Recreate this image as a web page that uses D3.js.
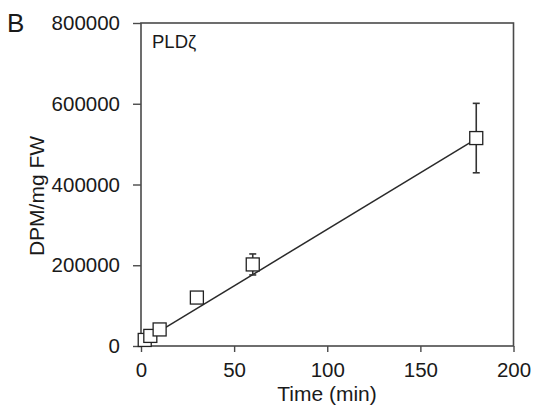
<!DOCTYPE html>
<html>
<head>
<meta charset="utf-8">
<script src="https://cdn.jsdelivr.net/npm/d3@7"></script>
<style>
  body { margin: 0; background: #fff; }
  svg { display: block; font-family: "Liberation Sans", Arial, sans-serif; }
</style>
</head>
<body>
<div id="chart"></div>
<script>
// values
const timeMin = [2, 5, 10, 30, 60, 180];
const dpm = [15000, 25000, 41000, 120000, 202000, 515000];
const dpmErr = [0, 0, 0, 0, 26000, 86000];
const xTicks = [0, 50, 100, 150, 200];
const yTicks = [0, 200000, 400000, 600000, 800000];
// fitted line
const fitSlope = 2800;
const fitIntercept = 9000;

const W = 534, H = 413;
const margin = { top: 23, right: 20, bottom: 66, left: 141 };

const svg = d3.select("#chart").append("svg")
    .attr("width", W)
    .attr("height", H);

const x = d3.scaleLinear().domain([0, 200]).range([margin.left, W - margin.right - 0.5]);
const y = d3.scaleLinear().domain([0, 800000]).range([H - margin.bottom - 1, margin.top]);

const axisColor = "#4a4a4a";

// frame
svg.append("rect")
    .attr("x", x(0)).attr("y", y(800000))
    .attr("width", x(200) - x(0)).attr("height", y(0) - y(800000))
    .attr("fill", "none").attr("stroke", axisColor).attr("stroke-width", 1.6);

// axes
const xAxis = svg.append("g")
    .attr("transform", `translate(0,${y(0)})`)
    .call(d3.axisBottom(x).tickValues(xTicks).tickSize(6).tickPadding(10).tickFormat(d3.format("d")));
const yAxis = svg.append("g")
    .attr("transform", `translate(${x(0)},0)`)
    .call(d3.axisLeft(y).tickValues(yTicks).tickSize(8).tickPadding(13).tickFormat(d3.format("d")));

[xAxis, yAxis].forEach(g => {
    g.select(".domain").remove();
    g.selectAll("line").attr("stroke", axisColor).attr("stroke-width", 1.4);
    g.selectAll("text").attr("font-size", 20.5).attr("fill", "#1a1a1a")
        .attr("font-family", "'Liberation Sans', Arial, sans-serif");
});

// fit line
const fitX = [d3.min(timeMin), d3.max(timeMin)];
svg.append("line")
    .attr("x1", x(fitX[0])).attr("y1", y(fitIntercept + fitSlope * fitX[0]))
    .attr("x2", x(fitX[1])).attr("y2", y(fitIntercept + fitSlope * fitX[1]))
    .attr("stroke", "#2a2a2a").attr("stroke-width", 1.5);

const pts = timeMin.map((t, i) => ({ t, v: dpm[i], e: dpmErr[i] }));

// error bars
const eb = svg.append("g").attr("stroke", "#333").attr("stroke-width", 1.6);
pts.filter(d => d.e > 0).forEach(d => {
    eb.append("line").attr("x1", x(d.t)).attr("x2", x(d.t))
        .attr("y1", y(d.v + d.e)).attr("y2", y(d.v - d.e));
    [d.v + d.e, d.v - d.e].forEach(v => {
        eb.append("line").attr("x1", x(d.t) - 3.5).attr("x2", x(d.t) + 3.5)
            .attr("y1", y(v)).attr("y2", y(v));
    });
});

// squares
const sz = 13;
svg.append("g").selectAll("rect")
    .data(pts)
    .join("rect")
    .attr("x", d => x(d.t) - sz / 2)
    .attr("y", d => y(d.v) - sz / 2)
    .attr("width", sz).attr("height", sz)
    .attr("fill", "#fff").attr("stroke", "#222").attr("stroke-width", 1.3);

// labels
svg.append("text")
    .attr("x", 327).attr("y", 401)
    .attr("text-anchor", "middle").attr("font-size", 21).attr("fill", "#1a1a1a")
    .text("Time (min)");

svg.append("text")
    .attr("transform", "translate(44,196) rotate(-90)")
    .attr("text-anchor", "middle").attr("font-size", 21).attr("fill", "#1a1a1a")
    .text("DPM/mg FW");

svg.append("text")
    .attr("x", 152).attr("y", 48)
    .attr("font-size", 18.5).attr("fill", "#1a1a1a")
    .text("PLDζ");

svg.append("text")
    .attr("x", 7).attr("y", 32)
    .attr("font-size", 26).attr("fill", "#1a1a1a")
    .text("B");
</script>
</body>
</html>
